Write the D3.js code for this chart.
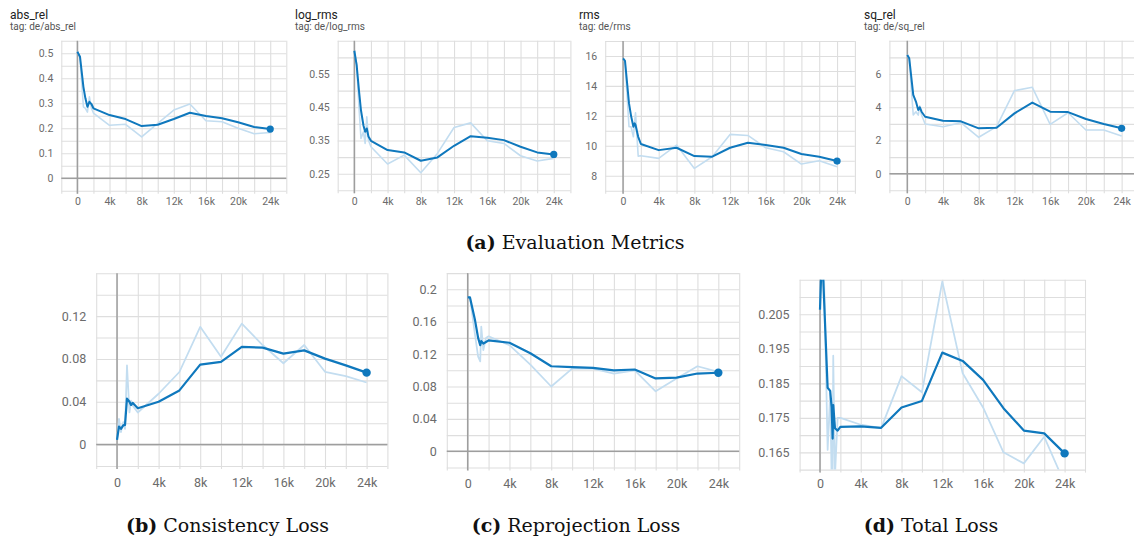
<!DOCTYPE html>
<html><head><meta charset="utf-8">
<script src="https://cdn.jsdelivr.net/npm/d3@7/dist/d3.min.js"></script>
<style>
body{margin:0;background:#fff;}
svg{display:block;}
</style></head>
<body><svg id="c" width="1134" height="537"></svg>
<script>
// ---------- DATA ----------
const mainSteps = [4000, 6000, 8000, 10000, 12000, 14000, 16000, 18000, 20000, 22000, 24000];
const xTickLabels = [0, 4000, 8000, 12000, 16000, 20000, 24000];

// abs_rel
const absRelSteps = [0, 330, 750, 1000, 1250, 1500, 1750, 2000, ...mainSteps];
const absRelSmooth = [0.506, 0.486, 0.366, 0.32, 0.286, 0.306, 0.297, 0.28, 0.253, 0.237, 0.209, 0.214, 0.237, 0.262, 0.249, 0.240, 0.224, 0.205, 0.197];
const absRelRaw    = [0.506, 0.48, 0.286, 0.28, 0.265, 0.326, 0.28, 0.261, 0.212, 0.216, 0.166, 0.22, 0.273, 0.297, 0.23, 0.226, 0.2, 0.178, 0.183];
const absRelTicks = [0, 0.1, 0.2, 0.3, 0.4, 0.5];

// log_rms
const logRmsSteps = [0, 280, 560, 800, 1100, 1300, 1500, 1700, 2000, ...mainSteps];
const logRmsSmooth = [0.620, 0.577, 0.50, 0.441, 0.395, 0.376, 0.386, 0.362, 0.349, 0.321, 0.314, 0.289, 0.299, 0.334, 0.363, 0.358, 0.351, 0.331, 0.314, 0.308];
const logRmsRaw    = [0.620, 0.58, 0.45, 0.356, 0.376, 0.341, 0.421, 0.351, 0.331, 0.279, 0.306, 0.253, 0.311, 0.389, 0.403, 0.349, 0.341, 0.304, 0.288, 0.296];
const logRmsTicks = [0.25, 0.35, 0.45, 0.55];

// rms
const rmsSteps = [0, 220, 670, 900, 1160, 1300, 1400, 1700, 2000, ...mainSteps];
const rmsSmooth = [15.84, 15.68, 12.83, 12.0, 11.27, 11.5, 11.39, 10.6, 10.12, 9.71, 9.87, 9.31, 9.27, 9.87, 10.2, 10.05, 9.87, 9.45, 9.27, 8.98];
const rmsRaw    = [15.84, 15.6, 11.27, 11.27, 10.6, 11.6, 12.2, 9.31, 9.34, 9.16, 10.05, 8.49, 9.27, 10.76, 10.69, 9.87, 9.6, 8.78, 9.0, 8.6];
const rmsTicks = [8, 10, 12, 14, 16];

// sq_rel
const sqRelSteps = [0, 220, 670, 970, 1230, 1400, 1600, 2000, ...mainSteps];
const sqRelSmooth = [7.15, 6.95, 4.74, 4.34, 3.84, 4.0, 3.73, 3.43, 3.19, 3.15, 2.73, 2.77, 3.63, 4.28, 3.73, 3.71, 3.29, 2.99, 2.73];
const sqRelRaw    = [7.15, 6.9, 3.53, 3.73, 3.53, 4.08, 3.53, 2.99, 2.83, 3.07, 2.19, 2.83, 5.0, 5.2, 2.97, 3.67, 2.63, 2.63, 2.27];
const sqRelTicks = [0, 2, 4, 6];

// consistency loss
const consSteps = [0, 190, 380, 600, 770, 960, 1200, 1350, 1500, 2000, ...mainSteps];
const consSmooth = [0.0044, 0.0169, 0.0147, 0.018, 0.0184, 0.043, 0.040, 0.037, 0.039, 0.034, 0.040, 0.0506, 0.0747, 0.0772, 0.0913, 0.0906, 0.085, 0.088, 0.0803, 0.074, 0.0672];
const consRaw    = [0.0044, 0.024, 0.0116, 0.021, 0.0147, 0.074, 0.030, 0.041, 0.0366, 0.030, 0.0475, 0.0678, 0.11, 0.082, 0.113, 0.093, 0.076, 0.093, 0.068, 0.064, 0.058];
const consTicks = [0, 0.04, 0.08, 0.12];

// reprojection loss
const reprSteps = [0, 220, 700, 1000, 1200, 1300, 1500, 1750, 2000, ...mainSteps];
const reprSmooth = [0.19, 0.19, 0.162, 0.14, 0.131, 0.136, 0.133, 0.135, 0.137, 0.134, 0.121, 0.105, 0.104, 0.103, 0.100, 0.101, 0.090, 0.091, 0.096, 0.097];
const reprRaw    = [0.19, 0.19, 0.144, 0.117, 0.111, 0.154, 0.125, 0.14, 0.142, 0.131, 0.107, 0.080, 0.102, 0.102, 0.096, 0.100, 0.074, 0.090, 0.105, 0.098];
const reprTicks = [0, 0.04, 0.08, 0.12, 0.16, 0.2];

// total loss
const totalSteps = [0, 200, 750, 1000, 1140, 1240, 1300, 1470, 1730, 2000, ...mainSteps];
const totalSmooth = [0.2063, 0.224, 0.1837, 0.1828, 0.1782, 0.169, 0.1787, 0.172, 0.1713, 0.1724, 0.1725, 0.1721, 0.178, 0.1799, 0.1939, 0.1915, 0.186, 0.1778, 0.1713, 0.1705, 0.1647];
const totalRaw    = [0.2063, 0.245, 0.1657, 0.182, 0.158, 0.160, 0.193, 0.158, 0.175, 0.175, 0.173, 0.172, 0.1871, 0.1824, 0.2145, 0.1879, 0.178, 0.165, 0.1618, 0.1695, 0.156];
const totalTicks = [0.165, 0.175, 0.185, 0.195, 0.205];

const captions = [
  {label: "(a)", text: " Evaluation Metrics", x: 575, y: 248.5},
  {label: "(b)", text: " Consistency Loss", x: 227.5, y: 532},
  {label: "(c)", text: " Reprojection Loss", x: 576, y: 532},
  {label: "(d)", text: " Total Loss", x: 931, y: 532}
];

// ---------- DRAW ----------
const svg = d3.select("#c");
const dark = "#0f78bd", light = "#c3ddf0";

function drawPanel(o) {
  const id = o.id;
  const x = d3.scaleLinear().domain([-2000, 26000]).range([o.x0, o.x1]);
  const y = d3.scaleLinear().domain(o.yDomain).range([o.y1, o.y0]);
  const g = svg.append("g");
  const w = o.x1 - o.x0, h = o.y1 - o.y0;

  // grid via axes
  const xGrid = d3.range(-2000, 26001, 2000);
  const yGrid = d3.range(0, Math.round((o.yDomain[1] - o.yDomain[0]) / o.yStep) + 1)
                  .map(i => +(o.yDomain[0] + i * o.yStep).toFixed(4));
  const gx = g.append("g").attr("transform", `translate(0,${o.y1 + 3})`)
    .call(d3.axisBottom(x).tickValues(xGrid).tickSize(-(h + 3)).tickFormat(""));
  const gy = g.append("g").attr("transform", `translate(${o.x0},0)`)
    .call(d3.axisLeft(y).tickValues(yGrid).tickSize(-w).tickFormat(""));
  [gx, gy].forEach(a => {
    a.select(".domain").remove();
    a.selectAll("line").attr("stroke", "#dedede").attr("stroke-width", 1.1);
  });

  // zero lines
  if (o.yDomain[0] < 0) {
    g.append("line").attr("x1", o.x0).attr("x2", o.x1).attr("y1", y(0)).attr("y2", y(0))
      .attr("stroke", "#9e9e9e").attr("stroke-width", 1.5);
  }
  g.append("line").attr("x1", x(0)).attr("x2", x(0)).attr("y1", o.y0).attr("y2", o.y1 + 3)
    .attr("stroke", "#9e9e9e").attr("stroke-width", 1.5);

  // tick labels via axes
  const ax = g.append("g").attr("transform", `translate(0,${o.y1})`)
    .call(d3.axisBottom(x).tickValues(xTickLabels).tickSize(0).tickPadding(o.xPad)
      .tickFormat(d => d === 0 ? "0" : (d / 1000) + "k"));
  const ay = g.append("g").attr("transform", `translate(${o.x0},0)`)
    .call(d3.axisLeft(y).tickValues(o.ticks).tickSize(0).tickPadding(o.yPad)
      .tickFormat(o.fmt));
  [ax, ay].forEach(a => {
    a.select(".domain").remove();
    a.selectAll("text").attr("fill", "#6b6b6b").style("font-family", "Roboto, sans-serif")
      .style("font-size", o.fs + "px");
  });

  // clip
  svg.append("clipPath").attr("id", "clip" + id).append("rect")
    .attr("x", o.x0).attr("y", o.y0).attr("width", w).attr("height", h);
  const pg = g.append("g").attr("clip-path", `url(#clip${id})`);
  const line = d3.line().x(d => x(d[0])).y(d => y(d[1]));
  const raw = o.steps.map((s, i) => [s, o.raw[i]]);
  const sm = o.steps.map((s, i) => [s, o.smooth[i]]);
  pg.append("path").attr("d", line(raw)).attr("fill", "none").attr("stroke", light)
    .attr("stroke-width", o.lw * 0.8).attr("stroke-linejoin", "round");
  pg.append("path").attr("d", line(sm)).attr("fill", "none").attr("stroke", dark)
    .attr("stroke-width", o.lw).attr("stroke-linejoin", "round");
  const last = sm[sm.length - 1];
  g.append("circle").attr("cx", x(last[0])).attr("cy", y(last[1])).attr("r", o.r).attr("fill", dark);

  if (o.title) {
    g.append("text").attr("x", o.titleX).attr("y", 18.5).text(o.title)
      .attr("fill", "#212121").style("font-family", "Roboto, sans-serif").style("font-size", "12px");
    g.append("text").attr("x", o.titleX).attr("y", 30).text(o.tag)
      .attr("fill", "#555").style("font-family", "Roboto, sans-serif").style("font-size", "10px");
  }
}

const f1 = d => d === 0 ? "0" : d3.format(".1f")(d);
const f2 = d => d === 0 ? "0" : d3.format(".2f")(d);
const fG = d => d === 0 ? "0" : String(+d.toFixed(3));

drawPanel({id: 1, x0: 61.3, x1: 286.3, y0: 40.8, y1: 190.8, yDomain: [-0.05, 0.55], yStep: 0.05,
  ticks: absRelTicks, fmt: f1, steps: absRelSteps, smooth: absRelSmooth, raw: absRelRaw,
  title: "abs_rel", tag: "tag: de/abs_rel", titleX: 10, fs: 10.5, xPad: 7, yPad: 8, lw: 2, r: 3.6});
drawPanel({id: 2, x0: 337.7, x1: 570.4, y0: 40.8, y1: 190.3, yDomain: [0.2, 0.65], yStep: 0.05,
  ticks: logRmsTicks, fmt: f2, steps: logRmsSteps, smooth: logRmsSmooth, raw: logRmsRaw,
  title: "log_rms", tag: "tag: de/log_rms", titleX: 295, fs: 10.5, xPad: 7, yPad: 8, lw: 2, r: 3.6});
drawPanel({id: 3, x0: 605.2, x1: 854.9, y0: 41, y1: 190.7, yDomain: [7, 17], yStep: 1,
  ticks: rmsTicks, fmt: d => String(d), steps: rmsSteps, smooth: rmsSmooth, raw: rmsRaw,
  title: "rms", tag: "tag: de/rms", titleX: 579, fs: 10.5, xPad: 7, yPad: 8, lw: 2, r: 3.6});
drawPanel({id: 4, x0: 889.4, x1: 1139.5, y0: 40.8, y1: 190.3, yDomain: [-1, 8], yStep: 1,
  ticks: sqRelTicks, fmt: d => String(d), steps: sqRelSteps, smooth: sqRelSmooth, raw: sqRelRaw,
  title: "sq_rel", tag: "tag: de/sq_rel", titleX: 864, fs: 10.5, xPad: 7, yPad: 8, lw: 2, r: 3.6});

drawPanel({id: 5, x0: 96.2, x1: 387.4, y0: 273.3, y1: 466, yDomain: [-0.02, 0.16], yStep: 0.02,
  ticks: consTicks, fmt: fG, steps: consSteps, smooth: consSmooth, raw: consRaw,
  fs: 12.5, xPad: 12, yPad: 10, lw: 2.2, r: 4.2});
drawPanel({id: 6, x0: 446.8, x1: 739.2, y0: 273.1, y1: 467.5, yDomain: [-0.02, 0.22], yStep: 0.02,
  ticks: reprTicks, fmt: fG, steps: reprSteps, smooth: reprSmooth, raw: reprRaw,
  fs: 12.5, xPad: 12, yPad: 10, lw: 2.2, r: 4.2});
drawPanel({id: 7, x0: 799.6, x1: 1085, y0: 279.8, y1: 469.6, yDomain: [0.16, 0.215], yStep: 0.005,
  ticks: totalTicks, fmt: fG, steps: totalSteps, smooth: totalSmooth, raw: totalRaw,
  fs: 12.5, xPad: 10, yPad: 10, lw: 2.2, r: 4.2});

// captions
captions.forEach(c => {
  const t = svg.append("text").attr("x", c.x).attr("y", c.y).attr("text-anchor", "middle")
    .style("font-family", "'DejaVu Serif', serif").style("font-size", "19px").attr("fill", "#111");
  t.append("tspan").style("font-weight", "bold").text(c.label);
  t.append("tspan").text(c.text);
});
</script></body></html>
